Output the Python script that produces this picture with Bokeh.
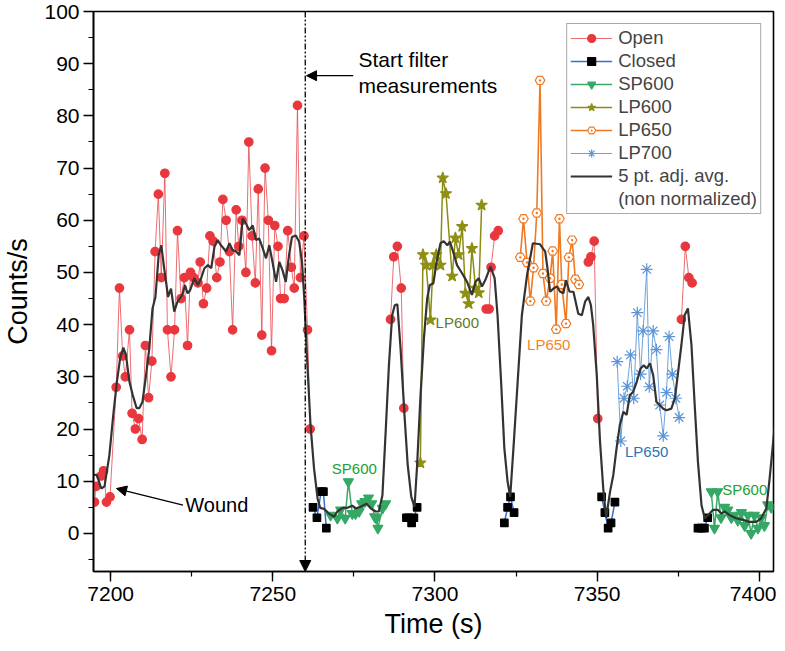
import math
from bokeh.plotting import figure
from bokeh.models import (Range1d, SingleIntervalTicker, Legend, LegendItem,
                          Arrow, NormalHead, Label)
from bokeh.embed import file_html
from bokeh.resources import INLINE

NAN = float("nan")

# ---------------- data (time in s, counts/s) ----------------
open_t = [
    [7195.0, 7195.5, 7197.0, 7197.8, 7198.7, 7199.8, 7201.7, 7202.7, 7203.7, 7204.5,
     7205.8, 7206.6, 7207.6, 7208.6, 7209.7, 7210.7, 7211.7, 7212.7, 7213.7, 7214.7,
     7215.6, 7216.7, 7217.5, 7218.6, 7219.7, 7220.6, 7221.7, 7222.7, 7223.7, 7224.6,
     7225.6, 7226.9, 7227.6, 7228.6, 7229.6, 7230.6, 7231.6, 7232.7, 7233.7, 7234.6,
     7235.6, 7236.6, 7237.6, 7238.7, 7239.5, 7240.5, 7241.7, 7242.6, 7243.6, 7244.6,
     7245.5, 7246.6, 7247.6, 7248.6, 7249.6, 7250.6, 7251.6, 7252.4, 7253.5, 7254.6,
     7255.7, 7256.6, 7257.6, 7258.5, 7259.6, 7260.7, 7261.5],
    [7286.3, 7287.3, 7288.4, 7289.6, 7290.4],
    [7315.8, 7316.7, 7317.3, 7318.4, 7319.5],
    [7347.3, 7348.1, 7349.1, 7350.2],
    [7376.0, 7377.2, 7378.3, 7379.3],
]
open_v = [
    [6, 9, 11, 12, 6, 7, 28, 47, 34, 30,
     39, 23, 20, 22, 18, 36, 26, 33, 54, 65,
     49, 69, 39, 30, 39, 58, 45, 49, 36, 50,
     49, 48, 52, 44, 47, 57, 56, 49, 52, 64,
     60, 54, 39, 62, 55, 60, 50, 75, 57, 48,
     66, 38, 70, 60, 35, 59, 55, 45, 45, 58,
     51, 47, 82, 49, 57, 39, 20],
    [41, 53, 55, 47, 24],
    [43, 43, 51, 57, 58],
    [52, 53, 56, 22],
    [41, 55, 49, 48],
]

closed_t = [
    [7262.4, 7263.6, 7264.9, 7265.6, 7266.5],
    [7291.2, 7291.9, 7292.8, 7293.5, 7294.5],
    [7321.4, 7322.4, 7323.3, 7324.4],
    [7351.4, 7352.4, 7353.4, 7354.3, 7355.5],
    [7381.1, 7382.1, 7383.1, 7384.1],
]
closed_v = [
    [5, 3, 8, 8, 1],
    [3, 3, 2, 3, 5],
    [2, 5, 7, 4],
    [7, 4, 1, 2, 6],
    [1, 1, 1, 3],
]

sp600_t = [
    [7267.8, 7269.9, 7270.9, 7272.3, 7273.3, 7274.5, 7275.5, 7276.6, 7277.4, 7278.4,
     7279.5, 7280.5, 7281.4, 7281.9, 7282.4, 7283.8, 7284.8],
    [7385.2, 7386.2, 7387.2, 7388.2, 7389.3, 7390.3, 7391.4, 7392.4, 7393.4, 7394.5,
     7395.5, 7396.5, 7397.5, 7398.5, 7399.6, 7400.6, 7401.6, 7402.6, 7403.7],
]
sp600_v = [
    [3.5, 2.9, 4.5, 2.9, 9.9, 3.8, 3.8, 4.2, 5.7, 6.1,
     6.8, 5.7, 3.2, 2.9, 1.0, 4.8, 5.7],
    [8, 1, 8, 3, 5, 4.5, 3, 3.5, 2.5, 4,
     1.5, 3.5, 0, 3.5, 1, 3, 1.5, 5.5, 5],
]

lp600_t = [[7295.5, 7296.3, 7297.3, 7298.6, 7299.4, 7300.4, 7301.7, 7302.4, 7303.4, 7305.3,
            7306.3, 7307.3, 7308.4, 7309.4, 7310.4, 7311.4, 7312.5, 7313.5, 7314.4]]
lp600_v = [[13.5, 53.4, 51.4, 40.9, 51.4, 53.4, 51.4, 68.1, 65.1, 49.3,
            56.6, 53.4, 58.8, 46.0, 44.0, 54.6, 47.0, 46.1, 62.9]]

lp650_t = [[7326.3, 7327.3, 7328.4, 7329.4, 7330.4, 7331.4, 7332.4, 7333.3, 7334.3, 7335.5,
            7336.3, 7337.4, 7338.4, 7339.1, 7340.4, 7341.3, 7342.3, 7343.3, 7344.4]]
lp650_v = [[52.9, 60.3, 51.9, 44.5, 50.9, 61.4, 86.8, 49.8, 44.5, 48.9,
            54.1, 39.1, 60.3, 47.7, 40.2, 52.9, 56.2, 48.7, 47.7]]

lp700_t = [[7356.2, 7357.3, 7358.3, 7359.3, 7360.3, 7361.3, 7362.4, 7363.4, 7364.2, 7365.3,
            7366.1, 7367.3, 7368.3, 7369.3, 7370.4, 7371.4, 7372.2, 7373.2, 7374.3, 7375.3]]
lp700_v = [[32.9, 17.7, 25.9, 28.2, 34.2, 25.9, 42.3, 30.5, 38.8, 50.6,
            28.1, 38.8, 35.2, 24.6, 18.7, 27.0, 37.7, 30.5, 25.9, 22.2]]

avg_pts = [
    (7194.7, 11.2), (7195.7, 11.2), (7197.1, 8.6), (7198.1, 9.0), (7199.6, 15.0),
    (7200.8, 22.7), (7201.9, 29.0), (7202.9, 33.5), (7203.9, 35.6), (7204.7, 34.2),
    (7205.8, 29.0), (7206.8, 26.5), (7208.0, 24.0), (7208.8, 24.0), (7209.8, 25.2),
    (7210.9, 30.3), (7211.9, 35.4), (7212.9, 43.1), (7213.8, 45.3), (7214.8, 53.3),
    (7215.6, 55.2), (7216.5, 50.8), (7217.7, 45.3), (7218.6, 46.9), (7219.6, 42.5),
    (7220.6, 44.4), (7222.1, 45.7), (7222.9, 47.6), (7223.7, 46.0), (7224.5, 46.6),
    (7225.8, 48.9), (7226.9, 47.6), (7227.9, 48.9), (7228.9, 50.8), (7230.0, 51.4),
    (7231.0, 50.8), (7232.0, 54.9), (7233.0, 56.2), (7234.0, 55.2), (7235.6, 54.0),
    (7236.6, 55.6), (7237.6, 54.3), (7238.7, 54.0), (7239.7, 53.3), (7240.7, 60.3),
    (7241.7, 59.4), (7242.7, 58.1), (7243.8, 59.0), (7244.8, 56.2), (7245.8, 56.5),
    (7246.9, 54.6), (7247.9, 52.7), (7248.9, 55.2), (7249.9, 52.0), (7251.0, 48.2),
    (7252.0, 52.0), (7253.0, 50.4), (7254.0, 48.2), (7255.0, 53.3), (7255.9, 56.8),
    (7257.1, 57.1), (7258.1, 55.9), (7259.0, 52.0), (7259.7, 45.0), (7260.6, 33.0),
    (7261.6, 21.0), (7262.7, 12.5), (7263.8, 6.7), (7264.6, 4.9), (7265.8, 4.7),
    (7267.3, 3.8), (7268.9, 3.2), (7269.9, 4.2), (7271.5, 4.9), (7273.0, 4.9),
    (7274.5, 5.3), (7275.6, 4.8), (7277.1, 5.1), (7278.9, 5.7), (7280.2, 4.8),
    (7281.7, 4.2), (7282.7, 4.2), (7283.8, 7.3), (7284.8, 19.5), (7285.8, 32.2),
    (7286.8, 41.8), (7287.6, 43.7), (7288.4, 43.9), (7289.4, 35.4), (7290.6, 22.7),
    (7291.6, 13.1), (7292.7, 7.0), (7293.7, 5.1), (7294.5, 13.1), (7295.5, 25.9),
    (7296.6, 37.4), (7297.6, 45.0), (7298.4, 47.6), (7299.5, 47.9), (7300.5, 52.0),
    (7301.7, 55.6), (7302.7, 56.0), (7303.8, 55.2), (7304.6, 55.9), (7305.6, 54.0),
    (7306.8, 51.4), (7308.4, 49.8), (7309.9, 48.2), (7311.4, 45.7), (7312.5, 48.2),
    (7313.5, 48.9), (7314.5, 47.3), (7315.5, 48.5), (7317.1, 51.1), (7318.4, 48.9),
    (7319.3, 41.8), (7320.4, 29.0), (7321.4, 16.3), (7322.4, 9.9), (7323.2, 7.0),
    (7324.2, 16.3), (7325.5, 29.0), (7326.8, 41.8), (7328.4, 49.5), (7330.2, 55.6),
    (7332.4, 55.4), (7334.0, 54.0), (7334.7, 50.8), (7335.5, 46.3), (7336.5, 46.9),
    (7337.6, 47.3), (7338.6, 46.3), (7339.6, 46.0), (7340.4, 48.5), (7341.5, 46.3),
    (7342.7, 46.3), (7344.2, 42.1), (7345.3, 41.8), (7346.3, 44.4), (7347.3, 45.3),
    (7348.1, 43.7), (7348.8, 39.9), (7349.9, 30.3), (7350.9, 17.6), (7351.9, 8.6),
    (7352.8, 3.0), (7354.0, 8.0), (7355.0, 11.2), (7356.0, 16.3), (7357.0, 20.7),
    (7358.1, 23.3), (7359.1, 22.7), (7360.1, 26.5), (7361.1, 27.1), (7362.2, 29.0),
    (7363.4, 31.6), (7364.4, 32.2), (7365.3, 31.6), (7366.3, 32.6), (7367.3, 30.3),
    (7368.3, 25.2), (7369.3, 24.6), (7370.4, 23.9), (7371.4, 23.6), (7372.9, 23.9),
    (7374.0, 25.9), (7375.0, 31.0), (7376.0, 36.1), (7377.0, 41.8), (7378.0, 43.1),
    (7379.1, 36.1), (7380.1, 24.6), (7381.1, 13.7), (7382.2, 5.4), (7383.2, 2.9),
    (7384.2, 3.5), (7385.7, 4.5), (7387.3, 4.5), (7388.3, 3.8), (7389.3, 4.2),
    (7390.9, 3.5), (7392.9, 2.9), (7395.0, 2.6), (7397.0, 2.2), (7399.1, 2.2),
    (7400.6, 2.9), (7402.2, 4.8), (7403.2, 10.5), (7404.2, 16.9), (7405.3, 24.0),
]

x_ticks_interval = 50
y_ticks_interval = 10

# ---------------- helpers ----------------
def join(ts, vs):
    xs, ys = [], []
    for i, (t, v) in enumerate(zip(ts, vs)):
        if i:
            xs.append(NAN)
            ys.append(NAN)
        xs += list(t)
        ys += list(v)
    return xs, ys

FONT = "Liberation Sans"

p = figure(width=776, height=647, output_backend="svg", toolbar_location=None,
           x_range=Range1d(7194.7, 7404.4), y_range=Range1d(-7.3, 100),
           min_border_left=90, min_border_right=3, min_border_top=11, min_border_bottom=76)
p.xgrid.visible = False
p.ygrid.visible = False
p.outline_line_color = "black"
p.outline_line_width = 1.6
p.background_fill_color = "white"
p.border_fill_color = "white"

p.xaxis.ticker = SingleIntervalTicker(interval=x_ticks_interval, num_minor_ticks=2)
p.yaxis.ticker = SingleIntervalTicker(interval=y_ticks_interval, num_minor_ticks=2)
for ax in (p.xaxis[0], p.yaxis[0]):
    ax.axis_line_color = "black"
    ax.axis_line_width = 1.6
    ax.major_tick_line_color = "black"
    ax.major_tick_line_width = 1.4
    ax.minor_tick_line_color = "black"
    ax.minor_tick_line_width = 1.2
    ax.major_tick_in = 0
    ax.major_tick_out = 10
    ax.minor_tick_in = 0
    ax.minor_tick_out = 5
    ax.major_label_text_font = FONT
    ax.major_label_text_color = "black"
    ax.axis_label_text_font = FONT
    ax.axis_label_text_font_style = "normal"
    ax.axis_label_text_font_size = "27px"
    ax.axis_label_text_color = "black"
p.xaxis.major_label_text_font_size = "21px"
p.yaxis.major_label_text_font_size = "21px"
p.xaxis.major_label_standoff = 5
p.yaxis.major_label_standoff = 4
p.xaxis.axis_label = "Time (s)"
p.yaxis.axis_label = "Counts/s"
p.xaxis.axis_label_standoff = 5
p.yaxis.axis_label_standoff = 8

# ---------------- series ----------------
def series(ts, vs, line_color, line_width, marker, size, fill, mline=None, line_alpha=1.0):
    xs, ys = join(ts, vs)
    lr = p.line(xs, ys, line_color=line_color, line_width=line_width, line_alpha=line_alpha)
    sr = p.scatter(xs, ys, marker=marker, size=size, fill_color=fill,
                   line_color=mline or fill, line_width=1.2)
    return lr, sr

r_open = series(open_t, open_v, "#e8484d", 1.0, "circle", 8.5, "#e8373d", line_alpha=0.8)
r_closed = series(closed_t, closed_v, "#3a6fc8", 1.5, "square", 7.5, "black")
r_sp600 = series(sp600_t, sp600_v, "#3aa866", 1.5, "inverted_triangle", 10, "#34a864")
r_lp600 = series(lp600_t, lp600_v, "#8c8c14", 1.5, "star", 12, "#8f8f14")
r_lp650 = series(lp650_t, lp650_v, "#f07a22", 1.6, "hex_dot", 9.5, "white", mline="#f07a22")
r_lp700 = series(lp700_t, lp700_v, "#6fa3dc", 1.0, "asterisk", 12, "#5b95d6", mline="#5b95d6")

avg_x = [a[0] for a in avg_pts]
avg_y = [a[1] for a in avg_pts]
r_avg = p.line(avg_x, avg_y, line_color="#333333", line_width=2.2)
r_blank = p.line([], [], line_alpha=0)

# ---------------- annotations ----------------
start_x = 7260
p.add_layout(Arrow(x_start=start_x, y_start=100, x_end=start_x, y_end=-7.3,
                   line_color="black", line_width=1.3, line_dash="6 2 2 2 2 2",
                   end=NormalHead(size=11, fill_color="black", line_color="black")))
p.add_layout(Arrow(x_start=7274.8, y_start=87.7, x_end=7260.4, y_end=87.7,
                   line_color="black", line_width=1.3,
                   end=NormalHead(size=10, fill_color="black", line_color="black")))
p.add_layout(Arrow(x_start=7222.3, y_start=5.4, x_end=7201.8, y_end=8.6,
                   line_color="black", line_width=1.3,
                   end=NormalHead(size=10, fill_color="black", line_color="black")))

def label(x, y, text, size, color="black"):
    p.add_layout(Label(x=x, y=y, text=text, text_font=FONT, text_font_size=size,
                       text_color=color, text_align="left", text_baseline="middle"))

label(7276.4, 90.8, "Start filter", "21px")
label(7276.4, 85.8, "measurements", "21px")
label(7223.0, 5.4, "Wound", "20px")
label(7268.2, 12.4, "SP600", "15px", "#22a032")
label(7300.2, 40.4, "LP600", "15px", "#66791a")
label(7328.4, 36.2, "LP650", "15px", "#f5841f")
label(7358.6, 15.6, "LP650", "15px", "#2a74b6")
label(7388.6, 8.5, "SP600", "15px", "#22a032")

# ---------------- legend ----------------
items = [
    LegendItem(label="Open", renderers=list(r_open)),
    LegendItem(label="Closed", renderers=list(r_closed)),
    LegendItem(label="SP600", renderers=list(r_sp600)),
    LegendItem(label="LP600", renderers=list(r_lp600)),
    LegendItem(label="LP650", renderers=list(r_lp650)),
    LegendItem(label="LP700", renderers=list(r_lp700)),
    LegendItem(label="5 pt. adj. avg.", renderers=[r_avg]),
    LegendItem(label="(non normalized)", renderers=[r_blank]),
]
legend = Legend(items=items, location="top_right", margin=12, padding=3, spacing=1,
                glyph_width=42, glyph_height=20, label_standoff=6,
                label_text_font=FONT, label_text_font_size="18.5px",
                border_line_color="#555555", border_line_width=1,
                background_fill_color="white", background_fill_alpha=1.0)
p.add_layout(legend)

open("out.html", "w").write(file_html(p, INLINE))
